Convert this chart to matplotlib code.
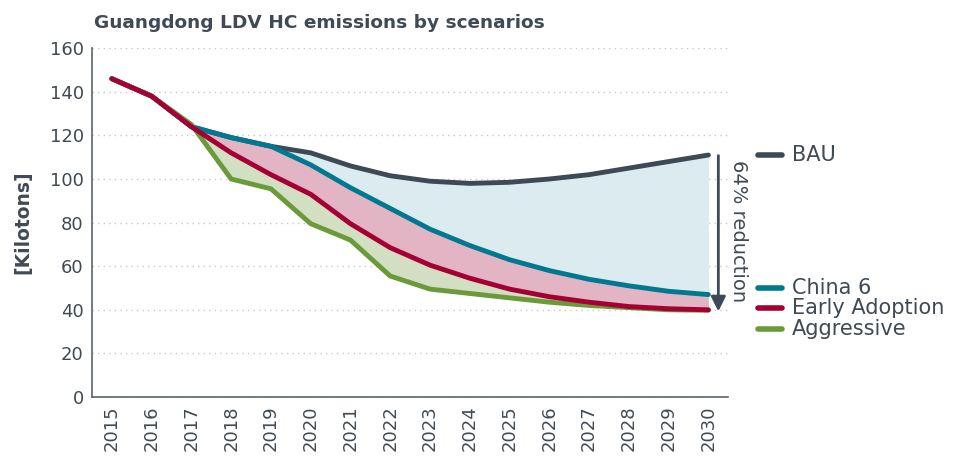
import numpy as np
import matplotlib.pyplot as plt

plt.rcParams['font.family'] = ['DejaVu Sans']

years = np.arange(2015, 2031)
bau = [146, 138, 124, 119, 115, 112, 106, 101.5, 99, 98, 98.5, 100, 102, 105, 108, 111]
china6 = [146, 138, 124, 119, 115, 106.5, 96, 86.5, 77, 69.5, 63, 58, 54, 51, 48.5, 47]
early = [146, 138, 124, 112, 102, 93, 79.5, 68.5, 60.5, 54.5, 49.5, 46, 43.5, 41.5, 40.5, 40]
aggressive = [146, 138, 125, 100, 95.5, 79.5, 72, 55.5, 49.5, 47.5, 45.5, 43.5, 42, 41, 40, 39.8]
labels = ['BAU', 'China 6', 'Early Adoption', 'Aggressive']
label_y = [111, 50, 40.7, 31]

c_bau = '#3d4a55'
c_china = '#00788f'
c_early = '#a50034'
c_aggr = '#6a9a3a'
grey = '#404a54'

fig = plt.figure(figsize=(9.54, 4.59), dpi=100)
ax = fig.add_axes([0.0964, 0.135, 0.667, 0.76])

ax.fill_between(years, bau, china6, color='#dbebf0', lw=0)
ax.fill_between(years, china6, early, color='#e2b4c4', lw=0)
ax.fill_between(years, early, aggressive, color='#d3dfc3', lw=0)

for s, c in zip([bau, china6, aggressive, early], [c_bau, c_china, c_aggr, c_early]):
    ax.plot(years, s, color=c, lw=3.5, solid_capstyle='round', solid_joinstyle='round')

ax.set_xlim(2014.5, 2030.5)
ax.set_ylim(0, 160)
ax.set_yticks(range(0, 161, 20))
ax.set_xticks(years)
ax.set_xticklabels([str(y) for y in years], rotation=90)
ax.tick_params(axis='both', labelsize=13, colors=grey, length=0, pad=6)
ax.grid(axis='y', color='#c8c8c8', linestyle=(0, (1, 3)), lw=1)
ax.set_axisbelow(True)
for side in ['top', 'right']:
    ax.spines[side].set_visible(False)
for side in ['left', 'bottom']:
    ax.spines[side].set_color('#5a6570')
    ax.spines[side].set_linewidth(1.2)

ax.set_ylabel('[Kilotons]', fontsize=13.5, fontweight='bold', color=grey, labelpad=12)
fig.text(0.099, 0.94, 'Guangdong LDV HC emissions by scenarios', fontsize=13.3,
         fontweight='bold', color=grey)

# reduction arrow
ax.annotate('', xy=(2030.25, 38), xytext=(2030.25, 112),
            arrowprops=dict(arrowstyle='-|>', color=c_bau, lw=2, mutation_scale=22),
            annotation_clip=False)
ax.text(2030.75, 76, '64% reduction', rotation=-90, fontsize=14, color=grey,
        ha='center', va='center', clip_on=False)

# legend as labels
for lab, yv, c in zip(labels, label_y, [c_bau, c_china, c_early, c_aggr]):
    ax.plot([2031.25, 2031.85], [yv, yv], color=c, lw=4, solid_capstyle='round', clip_on=False)
    ax.text(2032.1, yv, lab, fontsize=15, color=grey, va='center', ha='left', clip_on=False)

fig.savefig('out.png', dpi=100)
